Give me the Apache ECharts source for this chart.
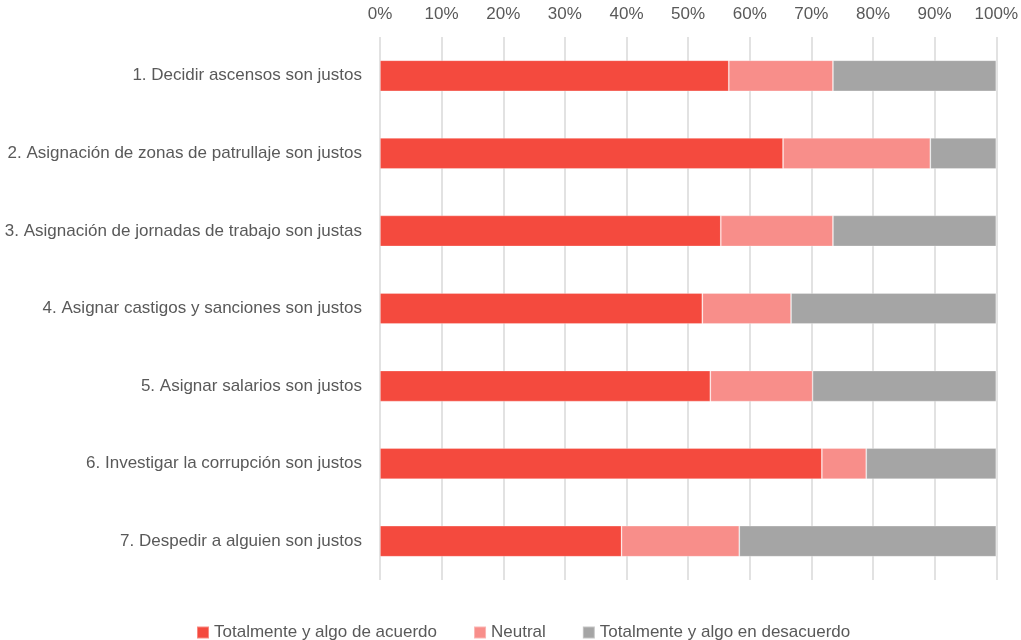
<!DOCTYPE html>
<html>
<head>
<meta charset="utf-8">
<script src="https://cdn.jsdelivr.net/npm/echarts@6/dist/echarts.min.js"></script>
<style>html,body{margin:0;padding:0;background:#fff;}#chart{width:1021px;height:640px;}</style>
</head>
<body>
<div id="chart"></div>
<script>
const categories = [
  "1. Decidir ascensos son justos",
  "2. Asignación de zonas de patrullaje son justos",
  "3. Asignación de jornadas de trabajo son justas",
  "4. Asignar castigos y sanciones son justos",
  "5. Asignar salarios son justos",
  "6. Investigar la corrupción son justos",
  "7. Despedir a alguien son justos"
];
const seriesNames = ["Totalmente y algo de acuerdo", "Neutral", "Totalmente y algo en desacuerdo"];
const agree = [56.6, 65.4, 55.3, 52.3, 53.6, 71.7, 39.2];
const neutral = [16.9, 23.9, 18.2, 14.4, 16.6, 7.2, 19.1];
const disagree = [26.5, 10.7, 26.5, 33.3, 29.8, 21.1, 41.7];
const colors = ["#F44A3E", "#F88E8A", "#A5A5A5"];

const chart = echarts.init(document.getElementById('chart'));
const font = "'Liberation Sans', sans-serif";
const mk = (name, data, color) => ({
  name, type: 'bar', stack: 'total', data, barCategoryGap: '60%',
  itemStyle: { color, borderColor: 'rgba(255,255,255,0.35)', borderWidth: 0.8 },
  emphasis: { disabled: true }
});
chart.setOption({
  animation: false,
  textStyle: { fontFamily: font },
  grid: { left: 380, right: 22, top: 37, bottom: 60, containLabel: false },
  legend: {
    top: 619, left: 191, itemWidth: 12, itemHeight: 12, itemGap: 36,
    icon: 'rect',
    textStyle: { color: '#595959', fontSize: 17, fontFamily: font },
    data: seriesNames
  },
  xAxis: {
    type: 'value', position: 'top', min: 0, max: 100, interval: 10,
    axisLine: { show: false }, axisTick: { show: false },
    axisLabel: { formatter: '{value}%', color: '#595959', fontSize: 17, margin: 14 },
    splitLine: { show: true, lineStyle: { color: '#D9D9D9', width: 1.5 } }
  },
  yAxis: {
    type: 'category', inverse: true, data: categories,
    axisLine: { show: false }, axisTick: { show: false },
    axisLabel: { color: '#595959', fontSize: 17, margin: 18 }
  },
  series: [
    mk(seriesNames[0], agree, colors[0]),
    mk(seriesNames[1], neutral, colors[1]),
    mk(seriesNames[2], disagree, colors[2])
  ]
});
</script>
</body>
</html>
